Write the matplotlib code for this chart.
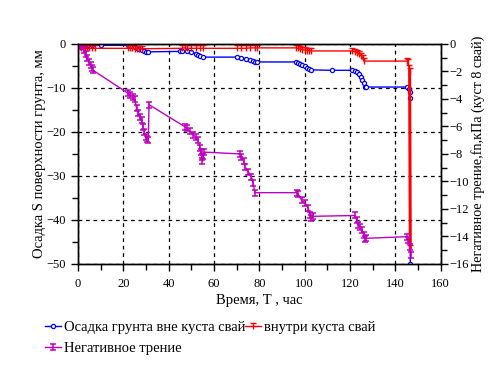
import matplotlib
matplotlib.use('Agg')
import matplotlib.pyplot as plt
from matplotlib.path import Path
from matplotlib.ticker import MultipleLocator

plt.rcParams['font.family'] = ['Liberation Serif', 'DejaVu Serif']
plt.rcParams['font.size'] = 10.5

# осадка грунта вне куста свай, мм
t_out = [0, 0.5, 1, 2, 4, 6, 10, 22, 23, 24, 25, 26, 27, 28, 29, 30, 31, 45, 46, 48, 50, 52, 53, 54, 55,
         70, 72, 74, 76, 77, 78, 79, 96, 97, 98, 99, 100, 101, 102, 103, 112, 121, 122, 123, 124, 124.8,
         125.4, 126, 126.6, 127, 145, 146.2, 146.4, 146.5, 146.6]
s_out = [0, -0.2, -0.3, -0.3, -0.3, -0.3, -0.3, -0.3, -0.4, -0.5, -0.6, -0.9, -1.2, -1.4, -1.6, -1.75, -1.8,
         -1.7, -1.6, -1.7, -1.9, -2.2, -2.5, -2.8, -3.0, -3.0, -3.1, -3.4, -3.6, -3.8, -4.0, -4.1, -4.1,
         -4.3, -4.5, -4.8, -5.1, -5.4, -5.7, -5.9, -6.0, -6.0, -6.1, -6.4, -6.9, -7.5, -8.2, -8.9, -9.7,
         -9.8, -9.8, -10.2, -11.0, -12.3, -50.0]

# внутри куста свай, мм
t_in = [0, 0.5, 1, 1.5, 2, 3, 4, 5, 6, 7.5, 22, 23, 24, 25, 26, 27, 28, 46, 47, 48, 50, 52, 54, 55,
        70, 72, 74, 76, 78, 79, 96, 97, 98, 99, 100, 101, 102, 103, 121, 122, 123, 124, 125, 125.7,
        126.3, 145, 145.5, 146, 146.3, 146.6]
s_in = [0, -0.3, -0.6, -0.9, -1.0, -1.0, -1.0, -1.0, -1.0, -1.0, -1.0, -0.9, -1.0, -1.1, -1.1, -1.1, -1.1,
        -1.0, -0.9, -1.0, -1.0, -1.0, -1.0, -1.0, -1.0, -1.0, -1.0, -0.9, -0.9, -0.9, -0.9, -1.0, -1.2,
        -1.3, -1.4, -1.5, -1.5, -1.6, -1.6, -1.8, -2.0, -2.3, -2.7, -3.3, -3.9, -3.9, -4.1, -5.5, -6.1,
        -46.4]

# негативное трение, кПа
t_fn = [0, 1, 2.6, 3.3, 4.1, 4.8, 5.6, 6.2, 6.6, 22, 23, 24.3, 25, 25.8, 26.5, 27.2, 28, 28.7, 29.3,
        29.8, 30.5, 31.0, 31.3, 47.1, 48, 49.3, 50.8, 52, 53, 53.7, 54.2, 54.5, 54.9, 55.2, 55.5,
        71.4, 72.1, 73.0, 73.6, 75, 76.5, 77.3, 78, 96.4, 97.1, 98.6, 100.1, 101.6, 102.2, 103, 103.5,
        122.2, 122.9, 123.6, 124.4, 125.1, 126.1, 126.6, 127.2, 145, 145.7, 146.4, 146.9]
fn = [0, -0.16, -0.45, -0.74, -1.06, -1.28, -1.54, -1.76, -1.92, -3.58, -3.71, -3.87, -4.03, -4.67,
      -4.99, -5.28, -5.54, -6.02, -6.40, -6.75, -6.91, -6.98, -4.42, -6.02, -6.14, -6.34, -6.62, -6.78,
      -6.98, -7.58, -7.87, -8.19, -8.54, -8.16, -7.87, -8.00, -8.19, -8.48, -8.93, -9.28, -9.66, -10.14,
      -10.82, -10.82, -10.91, -11.36, -11.58, -11.94, -12.45, -12.67, -12.54, -12.48, -12.80, -13.15,
      -13.34, -13.54, -13.89, -14.18, -14.14, -14.02, -14.24, -14.75, -15.33]

# маркеры: "т" и "I"
tee = Path([(-1, 1), (1, 1), (0, 1), (0, -1)],
           [Path.MOVETO, Path.LINETO, Path.MOVETO, Path.LINETO])
ibar = Path([(-1, 1), (1, 1), (-1, -1), (1, -1), (0, 1), (0, -1)],
            [Path.MOVETO, Path.LINETO, Path.MOVETO, Path.LINETO, Path.MOVETO, Path.LINETO])

fig = plt.figure(figsize=(4.88, 3.66), dpi=100)
ax = fig.add_axes([0.160, 0.279, 0.743, 0.601])
ax2 = ax.twinx()

l1, = ax.plot(t_out, s_out, color='#0000ff', lw=1, marker='o', ms=3, mfc='white', mew=0.9,
              label='Осадка грунта вне куста свай')
l2, = ax.plot(t_in, s_in, color='#ff0000', lw=1, marker=tee, ms=5, mew=1.0,
              label='внутри куста свай')
l3, = ax2.plot(t_fn, fn, color='#c000c0', lw=1, marker=ibar, ms=5, mew=1.1,
               label='Негативное трение')
# толстый вертикальный участок в конце опыта
ax.plot(t_in[-2:], s_in[-2:], color='#ff0000', lw=2.2)

ax.set_xlim(0, 160)
ax.set_ylim(-50, 0)
ax2.set_ylim(-16, 0)
ax.xaxis.set_major_locator(MultipleLocator(20))
ax.xaxis.set_minor_locator(MultipleLocator(10))
ax.yaxis.set_major_locator(MultipleLocator(10))
ax.yaxis.set_minor_locator(MultipleLocator(5))
ax2.yaxis.set_major_locator(MultipleLocator(2))
ax2.yaxis.set_minor_locator(MultipleLocator(1))

for a in (ax, ax2):
    a.tick_params(which='both', direction='out', width=1, colors='black', labelsize=9)
    a.tick_params(which='major', length=5)
    a.tick_params(which='minor', length=4)
    for sp in a.spines.values():
        sp.set_linewidth(1)
ax.tick_params(axis='y', which='major', pad=4)
ax.tick_params(axis='x', which='major', pad=5)
ax2.tick_params(axis='y', which='major', pad=1.5)

ax.grid(True, which='major', color='black', linestyle=(0, (3, 3)), linewidth=0.9)

ax.set_xlabel('Время, Т , час', labelpad=3)
ax.set_ylabel('Осадка S поверхности грунта, мм')
ax2.set_ylabel('Негативное трение,fn,кПа (куст 8 свай)', fontsize=10.2)
ax.yaxis.set_label_coords(-0.088, 0.5)
ax2.yaxis.set_label_coords(1.085, 0.5)

fig.legend(handles=[l1, l3, l2], loc='upper left', bbox_to_anchor=(0.092, 0.123), ncol=2,
           frameon=False, handlelength=1.1, handletextpad=0.2, columnspacing=0.0,
           labelspacing=0.5, borderaxespad=0, borderpad=0, fontsize=10.5)

fig.savefig('out.png', dpi=100)
